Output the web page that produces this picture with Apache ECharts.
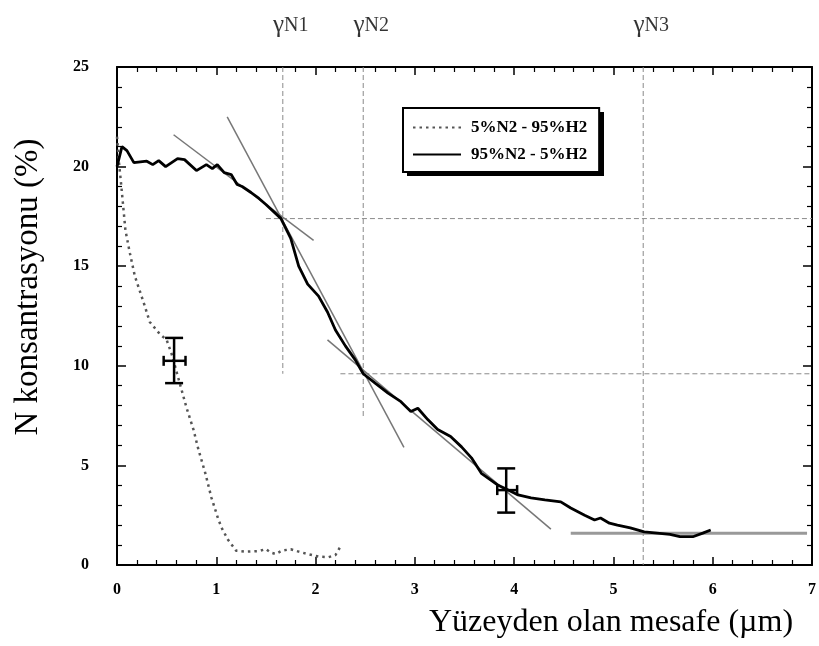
<!DOCTYPE html>
<html>
<head>
<meta charset="utf-8">
<script src="https://cdn.jsdelivr.net/npm/echarts@6/dist/echarts.min.js"></script>
<style>
  html, body { margin: 0; padding: 0; background: #fff; }
  #chart { width: 819px; height: 646px; }
</style>
</head>
<body>
<div id="chart"></div>
<script>
// 5%N2 - 95%H2 (dotted)
const lowX = [0, 0.02, 0.04, 0.085, 0.13, 0.18, 0.28, 0.33, 0.43, 0.5, 0.55, 0.6, 0.65, 0.7, 0.77, 0.82, 0.89, 0.95, 1.02, 1.06, 1.12, 1.2, 1.3, 1.43, 1.5, 1.55, 1.6, 1.66, 1.75, 1.83, 1.93, 2.03, 2.13, 2.2, 2.25];
const lowY = [21.5, 20.2, 19.2, 16.8, 15.65, 14.5, 13.0, 12.2, 11.6, 11.3, 10.6, 9.7, 8.8, 7.9, 6.8, 5.8, 4.6, 3.4, 2.3, 1.8, 1.25, 0.72, 0.67, 0.7, 0.8, 0.62, 0.55, 0.72, 0.79, 0.67, 0.54, 0.42, 0.39, 0.5, 0.92];

// 95%N2 - 5%H2 (solid)
const highX = [0, 0.05, 0.1, 0.17, 0.3, 0.36, 0.42, 0.49, 0.61, 0.68, 0.8, 0.9, 0.96, 1.01, 1.08, 1.15, 1.21, 1.26, 1.35, 1.43, 1.5, 1.65, 1.75, 1.83, 1.92, 2.03, 2.12, 2.2, 2.3, 2.4, 2.48, 2.6, 2.73, 2.86, 2.96, 3.03, 3.13, 3.23, 3.36, 3.47, 3.57, 3.67, 3.84, 3.94, 4.04, 4.17, 4.31, 4.47, 4.57, 4.71, 4.81, 4.87, 4.96, 5.04, 5.17, 5.31, 5.44, 5.57, 5.67, 5.8, 5.9, 5.98];
const highY = [20.0, 21.0, 20.8, 20.2, 20.27, 20.1, 20.3, 20.0, 20.4, 20.35, 19.8, 20.1, 19.9, 20.1, 19.7, 19.6, 19.1, 19.0, 18.7, 18.4, 18.1, 17.4, 16.4, 15.0, 14.1, 13.5, 12.7, 11.8, 11.0, 10.3, 9.6, 9.13, 8.63, 8.2, 7.7, 7.87, 7.3, 6.8, 6.45, 5.93, 5.38, 4.6, 4.0, 3.77, 3.52, 3.37, 3.27, 3.17, 2.86, 2.5, 2.26, 2.36, 2.1, 2.0, 1.86, 1.66, 1.6, 1.54, 1.42, 1.42, 1.6, 1.76];

// gamma positions and their reference lines
const gammaNames = ['N1', 'N2', 'N3'];
const gammaX = [1.67, 2.48, 5.3];
const gammaYEnd = [9.6, 7.4, 0];
const hRefY = [17.39, 9.6];
const hRefXStart = [1.5, 2.25];

// tangent lines [x1, y1, x2, y2]
const tangents = [
  [0.57, 21.6, 1.98, 16.3],
  [1.11, 22.5, 2.89, 5.9],
  [2.12, 11.3, 4.37, 1.8]
];
const plateau = [4.57, 1.6, 6.95, 1.6];

// error bars: x, y, yLow, yHigh, xLow, xHigh
const errX = [0.575, 3.92];
const errY = [10.25, 3.76];
const errYLow = [9.13, 2.63];
const errYHigh = [11.4, 4.85];
const errXLow = [0.47, 3.83];
const errXHigh = [0.69, 4.03];

const serif = 'Liberation Serif, Times New Roman, serif';

const chart = echarts.init(document.getElementById('chart'));

function seg(points, color, width, type) {
  return {
    type: 'line',
    data: points,
    symbol: 'none',
    silent: true,
    lineStyle: { color: color, width: width, type: type },
    z: 1
  };
}

const series = [];

// dashed reference lines
gammaX.forEach((gx, i) => {
  series.push(seg([[gx, 25], [gx, gammaYEnd[i]]], '#8a8a8a', 1, [5, 3]));
});
hRefY.forEach((hy, i) => {
  series.push(seg([[hRefXStart[i], hy], [7, hy]], '#8a8a8a', 1, [5, 3]));
});

// tangents
tangents.forEach(t => {
  series.push(seg([[t[0], t[1]], [t[2], t[3]]], '#777', 1.5, 'solid'));
});
series.push(seg([[plateau[0], plateau[1]], [plateau[2], plateau[3]]], '#999', 3, 'solid'));

series.push({
  name: '5%N2 - 95%H2',
  type: 'line',
  data: lowX.map((x, i) => [x, lowY[i]]),
  symbol: 'none',
  itemStyle: { color: '#555' },
  lineStyle: { color: '#555', width: 2.5, type: [2.5, 4] },
  z: 3
});
series.push({
  name: '95%N2 - 5%H2',
  type: 'line',
  data: highX.map((x, i) => [x, highY[i]]),
  symbol: 'none',
  itemStyle: { color: '#000' },
  lineStyle: { color: '#000', width: 2.8 },
  z: 3
});

// error bars
series.push({
  type: 'custom',
  silent: true,
  z: 4,
  data: errX.map((x, i) => [x, errY[i], errYLow[i], errYHigh[i], errXLow[i], errXHigh[i]]),
  renderItem: function (params, api) {
    const c = api.coord([api.value(0), api.value(1)]);
    const lo = api.coord([api.value(0), api.value(2)]);
    const hi = api.coord([api.value(0), api.value(3)]);
    const l = api.coord([api.value(4), api.value(1)]);
    const r = api.coord([api.value(5), api.value(1)]);
    const cap = 9, cap2 = 5;
    const st = { stroke: '#000', lineWidth: 2.5, fill: null };
    const line = (x1, y1, x2, y2) => ({ type: 'line', shape: { x1, y1, x2, y2 }, style: st });
    return {
      type: 'group',
      children: [
        line(lo[0], lo[1], hi[0], hi[1]),
        line(lo[0] - cap, lo[1], lo[0] + cap, lo[1]),
        line(hi[0] - cap, hi[1], hi[0] + cap, hi[1]),
        line(l[0], c[1], r[0], c[1]),
        line(l[0], c[1] - cap2, l[0], c[1] + cap2),
        line(r[0], c[1] - cap2, r[0], c[1] + cap2)
      ]
    };
  }
});

// gamma labels above the plot
series.push({
  type: 'scatter',
  data: gammaX.map(x => [x, 25]),
  symbolSize: 0,
  silent: true,
  label: {
    show: true,
    position: 'top',
    distance: 29,
    offset: [8, 0],
    formatter: p => '{g|γ}{n|' + gammaNames[p.dataIndex] + '}',
    rich: {
      g: { fontFamily: serif, fontSize: 25, color: '#000' },
      n: { fontFamily: serif, fontSize: 20, color: '#000' }
    }
  }
});

const tickLabel = { fontFamily: serif, fontWeight: 'bold', fontSize: 16, color: '#000' };
const axisLine = { show: true, onZero: false, lineStyle: { color: '#000', width: 2 } };

function xAx(pos, showLabel) {
  return {
    type: 'value', position: pos, min: 0, max: 7, interval: 1,
    axisLine: axisLine,
    axisTick: { inside: true, length: 8, lineStyle: { color: '#000', width: 1.5 } },
    minorTick: { show: true, splitNumber: 5, length: 5, lineStyle: { color: '#000', width: 1.2 } },
    axisLabel: Object.assign({ show: showLabel, margin: 17 }, tickLabel),
    splitLine: { show: false }
  };
}
function yAx(pos, showLabel) {
  return {
    type: 'value', position: pos, min: 0, max: 25, interval: 5,
    axisLine: axisLine,
    axisTick: { inside: true, length: 9, lineStyle: { color: '#000', width: 1.5 } },
    minorTick: { show: true, splitNumber: 5, length: 5, lineStyle: { color: '#000', width: 1.2 } },
    axisLabel: Object.assign({ show: showLabel, margin: 28 }, tickLabel),
    splitLine: { show: false }
  };
}

chart.setOption({
  animation: false,
  grid: { left: 117, right: 4, top: 67, bottom: 81 },
  xAxis: [xAx('bottom', true), xAx('top', false)],
  yAxis: [yAx('left', true), yAx('right', false)],
  legend: {
    data: ['5%N2 - 95%H2', '95%N2 - 5%H2'],
    orient: 'vertical',
    left: 403,
    top: 108,
    padding: [11, 12, 9, 9],
    itemWidth: 48,
    itemHeight: 14,
    itemGap: 10,
    itemStyle: { opacity: 0 },
    backgroundColor: '#fff',
    borderColor: '#000',
    borderWidth: 2,
    z: 5,
    textStyle: { fontFamily: serif, fontWeight: 'bold', fontSize: 17, color: '#000', padding: [0, 0, 0, 5] }
  },
  graphic: [
    {
      // drop shadow behind the legend box
      type: 'rect', left: 407, top: 112, z: 4,
      shape: { width: 197, height: 64 },
      style: { fill: '#000' }
    },
    {
      type: 'text', x: 28, y: 287, rotation: Math.PI / 2,
      style: { text: 'N konsantrasyonu (%)', font: '33px ' + serif, fill: '#000', align: 'center', verticalAlign: 'middle' }
    },
    {
      type: 'text', x: 611, y: 623,
      style: { text: 'Yüzeyden olan mesafe (µm)', font: '32px ' + serif, fill: '#000', align: 'center', verticalAlign: 'middle' }
    }
  ],
  series: series
});
</script>
</body>
</html>
